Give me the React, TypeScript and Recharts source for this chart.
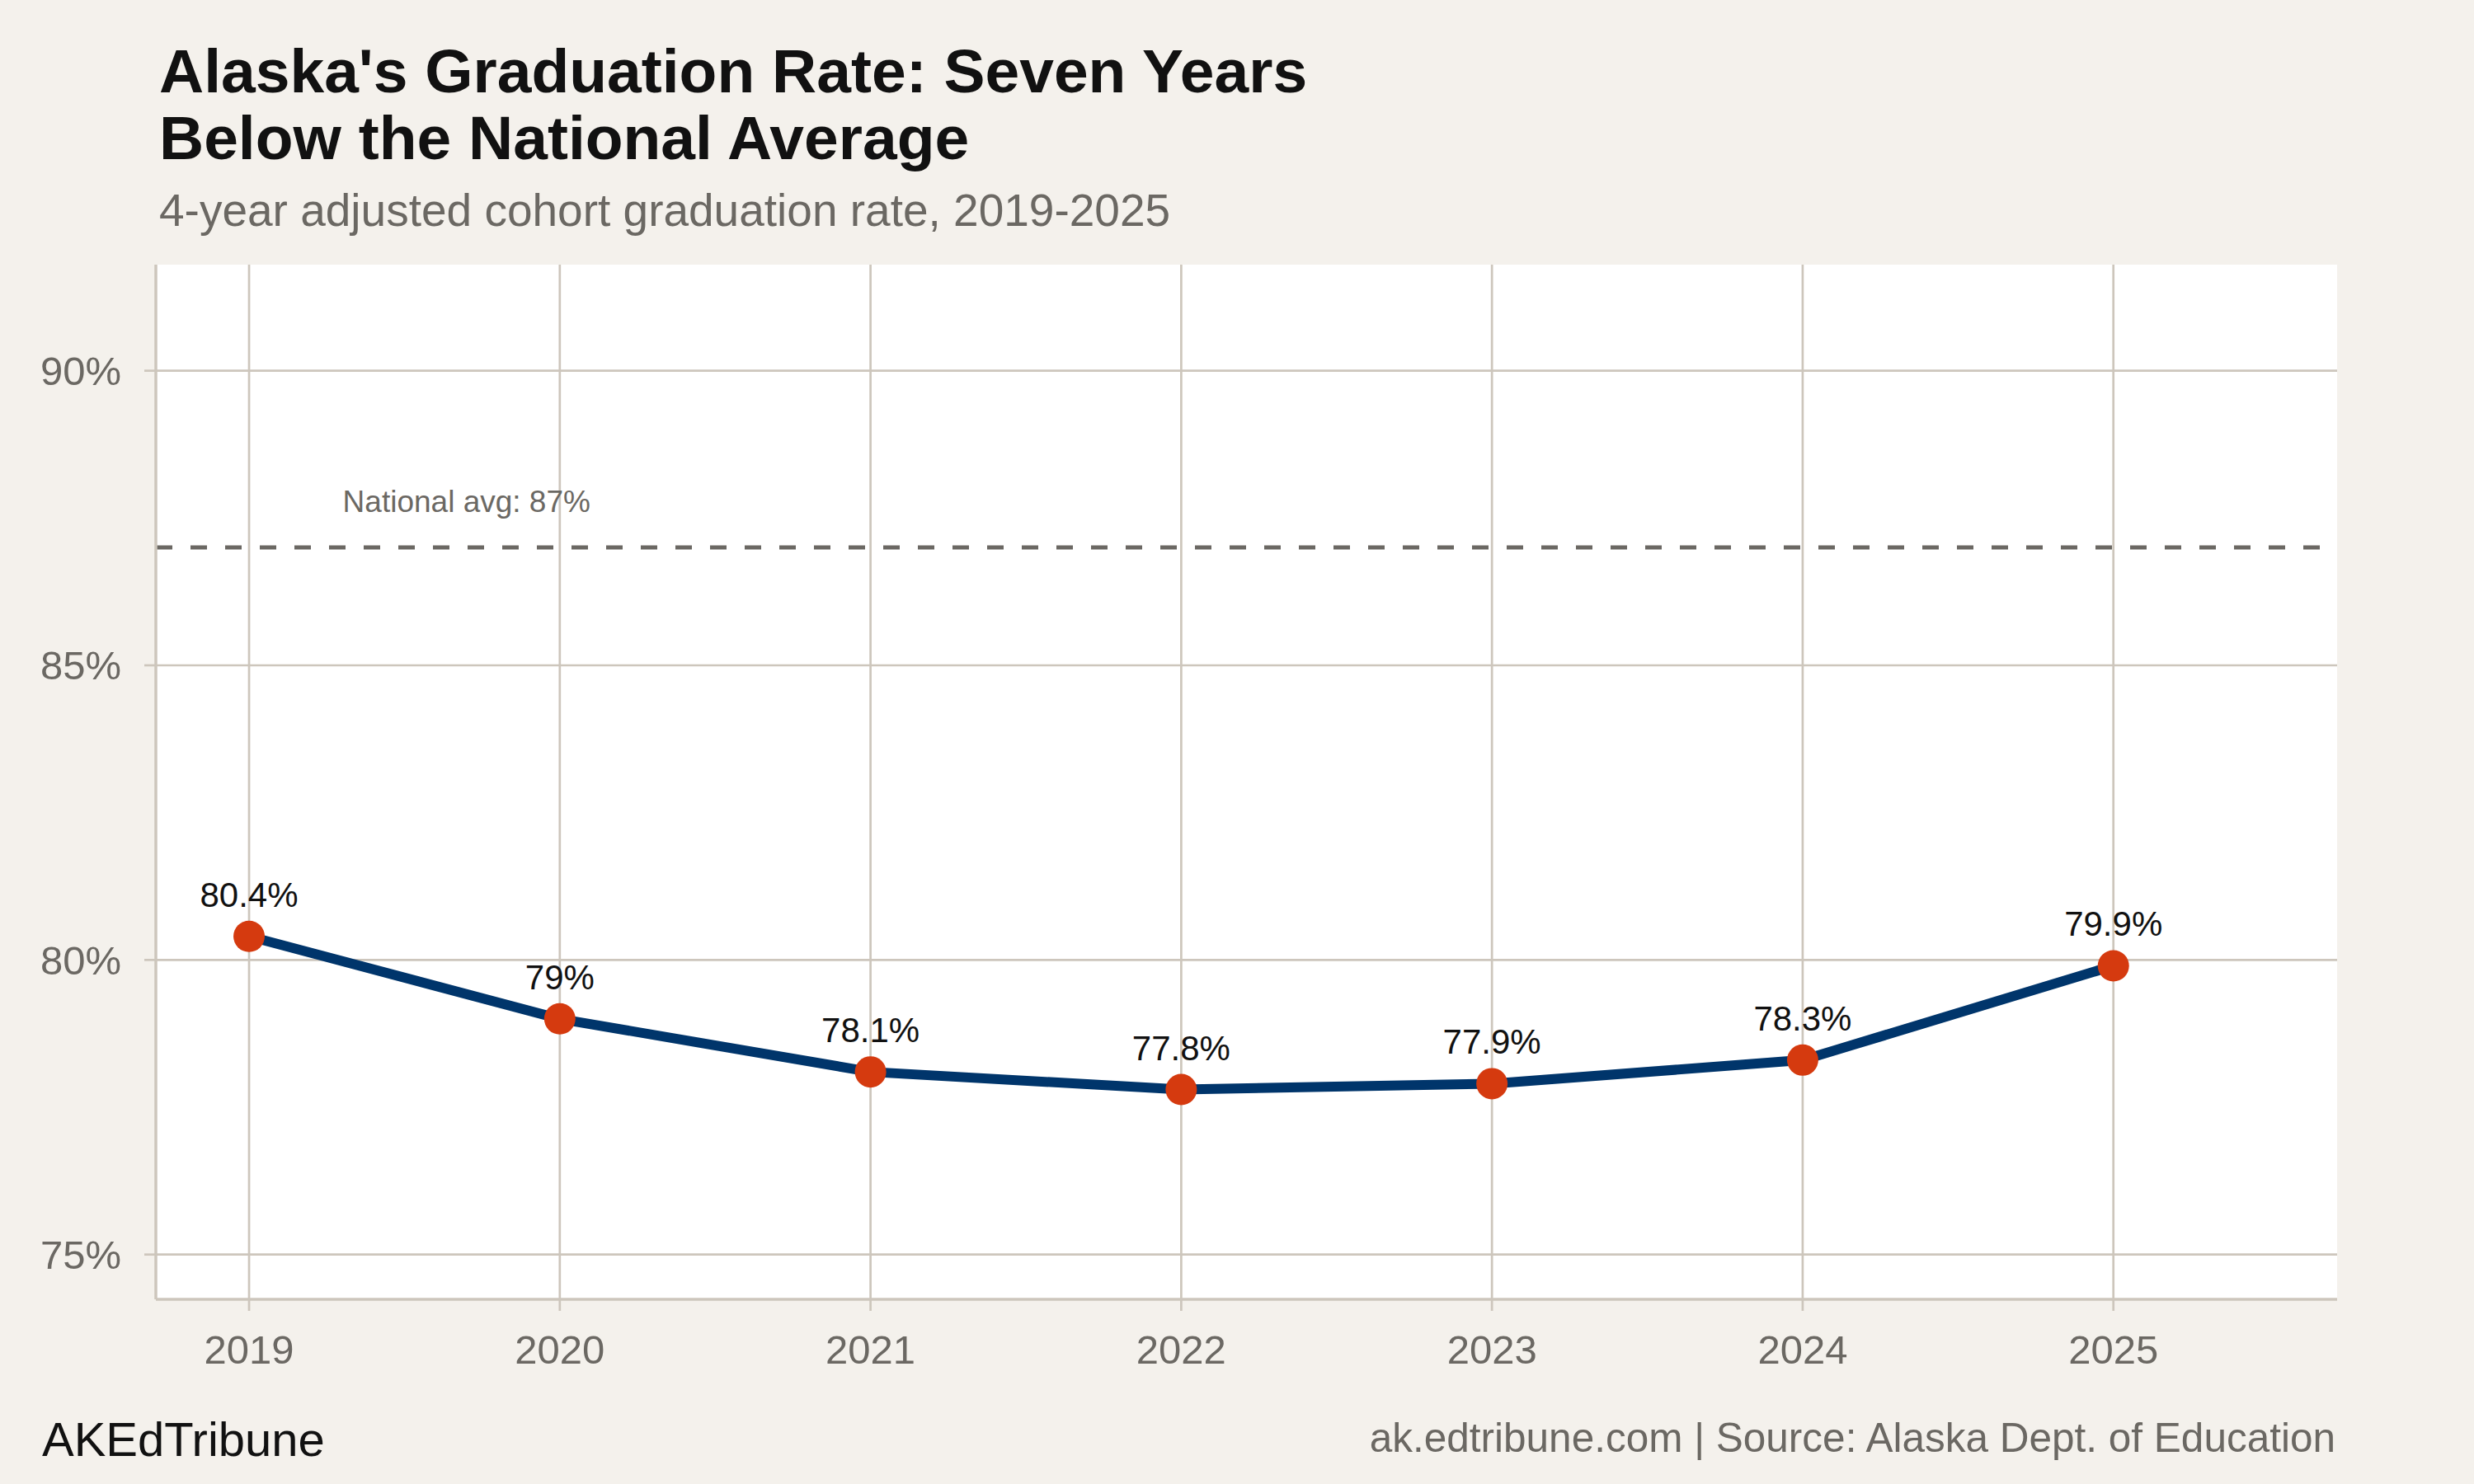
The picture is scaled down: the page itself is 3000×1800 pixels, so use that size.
import {
  LineChart,
  Line,
  XAxis,
  YAxis,
  CartesianGrid,
  ReferenceLine,
  ReferenceDot,
  LabelList,
} from "recharts";

const years = [2019, 2020, 2021, 2022, 2023, 2024, 2025];
const gradRates = [80.4, 79.0, 78.1, 77.8, 77.9, 78.3, 79.9];
const yTicks = [75, 80, 85, 90];
const nationalAvg = 87;
const nationalAvgLabel = "National avg: 87%";

const data = years.map((year, i) => ({ year, rate: gradRates[i] }));

const FONT = "'Liberation Sans', Arial, Helvetica, sans-serif";
const BG = "#F4F1EC";
const GRID = "#CDC6BC";
const MUTED = "#6B6863";
const NAVY = "#00356B";
const ORANGE = "#D53A0F";

function PointLabel(props: any) {
  const { x, y, value } = props;
  return (
    <text
      x={x}
      y={y - 36}
      textAnchor="middle"
      fontFamily={FONT}
      fontSize={42}
      fill="#111111"
    >
      {`${value}%`}
    </text>
  );
}

function AvgLabel(props: any) {
  const { cx, cy } = props;
  return (
    <text
      x={cx}
      y={cy - 43}
      textAnchor="middle"
      fontFamily={FONT}
      fontSize={37}
      fill={MUTED}
    >
      {nationalAvgLabel}
    </text>
  );
}

export default function App() {
  return (
    <div
      style={{
        position: "absolute",
        left: 0,
        top: 0,
        width: 3000,
        height: 1800,
        background: BG,
        fontFamily: FONT,
      }}
    >
      <LineChart
        width={3000}
        height={1800}
        data={data}
        margin={{ top: 321, right: 166, bottom: 223, left: 188 }}
      >
        {/* grid only at the axis ticks, no frame around the panel */}
        <CartesianGrid stroke={GRID} strokeWidth={2.7} fill="#FFFFFF" syncWithTicks />
        <XAxis
          dataKey="year"
          type="number"
          domain={[2018.7, 2025.72]}
          ticks={years}
          interval={0}
          allowDataOverflow
          height={1}
          axisLine={{ stroke: GRID, strokeWidth: 3.5 }}
          tickLine={{ stroke: GRID, strokeWidth: 2.7 }}
          tickSize={14}
          tickMargin={29}
          tick={{ fill: MUTED, fontSize: 49, fontFamily: FONT }}
        />
        <YAxis
          type="number"
          domain={[74.24, 91.8]}
          ticks={yTicks}
          interval={0}
          allowDataOverflow
          width={1}
          axisLine={{ stroke: GRID, strokeWidth: 3.5 }}
          tickLine={{ stroke: GRID, strokeWidth: 2.7 }}
          tickSize={14}
          tickMargin={28}
          tickFormatter={(v: number) => `${v}%`}
          tick={{ fill: MUTED, fontSize: 49, fontFamily: FONT }}
        />
        <ReferenceLine
          y={nationalAvg}
          stroke={MUTED}
          strokeWidth={5}
          strokeDasharray="20 22"
        />
        <ReferenceDot
          x={2019.7}
          y={nationalAvg}
          r={0}
          shape={AvgLabel}
        />
        <Line
          type="linear"
          dataKey="rate"
          stroke={NAVY}
          strokeWidth={12}
          dot={{ r: 19, fill: ORANGE, stroke: ORANGE, strokeWidth: 0 }}
          activeDot={false}
          isAnimationActive={false}
        >
          <LabelList dataKey="rate" content={PointLabel} />
        </Line>
      </LineChart>
      <svg
        width={3000}
        height={1800}
        style={{ position: "absolute", left: 0, top: 0, pointerEvents: "none" }}
      >
        <text x={193} y={112} fontFamily={FONT} fontSize={75} fontWeight={700} fill="#111111">
          Alaska's Graduation Rate: Seven Years
        </text>
        <text x={193} y={193} fontFamily={FONT} fontSize={75} fontWeight={700} fill="#111111">
          Below the National Average
        </text>
        <text x={193} y={274} fontFamily={FONT} fontSize={55} fill={MUTED}>
          4-year adjusted cohort graduation rate, 2019-2025
        </text>
        <text x={51} y={1766} fontFamily={FONT} fontSize={58} fill="#111111">
          AKEdTribune
        </text>
        <text x={2832} y={1761} textAnchor="end" fontFamily={FONT} fontSize={49.5} fill={MUTED}>
          ak.edtribune.com | Source: Alaska Dept. of Education
        </text>
      </svg>
    </div>
  );
}
